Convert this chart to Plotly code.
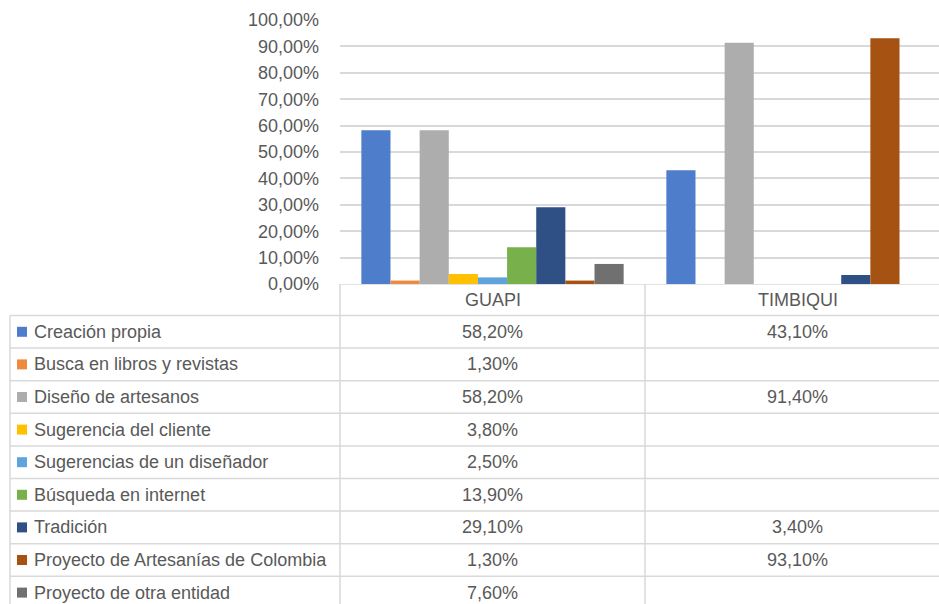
import plotly.graph_objects as go

categories = ["GUAPI", "TIMBIQUI"]
series_names = [
    "Creación propia",
    "Busca en libros y revistas",
    "Diseño de artesanos",
    "Sugerencia del cliente",
    "Sugerencias de un diseñador",
    "Búsqueda en internet",
    "Tradición",
    "Proyecto de Artesanías de Colombia",
    "Proyecto de otra entidad",
]
guapi = [0.582, 0.013, 0.582, 0.038, 0.025, 0.139, 0.291, 0.013, 0.076]
timbiqui = [0.431, None, 0.914, None, None, None, 0.034, 0.931, None]
y_ticks = [0, 0.1, 0.2, 0.3, 0.4, 0.5, 0.6, 0.7, 0.8, 0.9, 1.0]
colors = ["#4E7DCB", "#EE8A40", "#ADADAD", "#FFC000", "#5EA3DC",
          "#78B14B", "#2E5084", "#A65213", "#707070"]

OFF = 0
PW, PH = 939, 604
W, H = PW - OFF, PH - OFF
FONT = "Liberation Sans"
TXT = "#595959"
GRID = "#D9D9D9"
FS = 18


def fx(p):
    return (p - OFF) / W


def fy(p):
    return 1 - (p - OFF) / H


fig = go.Figure()
for name, g, t, c in zip(series_names, guapi, timbiqui, colors):
    fig.add_trace(go.Bar(name=name, x=categories, y=[g, t], marker_color=c,
                         marker_line_width=0, showlegend=False))

# table geometry (page pixels)
plot_top, plot_bot = 20, 284
row0 = 315.5
rowh = 32.6
y2_top = (plot_bot - row0) / rowh
y2_bot = (PH - row0) / rowh
plot_left = 340
cat_w = 305
x_max = -0.5 + (PW - plot_left) / cat_w

fig.update_layout(
    template="none",
    width=W, height=H,
    margin=dict(l=0, r=0, t=0, b=0, pad=0, autoexpand=False),
    paper_bgcolor="white", plot_bgcolor="white",
    separators=",.",
    barmode="group", bargap=0.14, bargroupgap=0,
    font=dict(family=FONT, color=TXT, size=FS),
    xaxis=dict(domain=[fx(plot_left), 1], range=[-0.5, x_max], showticklabels=False,
               showgrid=False, zeroline=False, showline=False, ticks="",
               automargin=False),
    yaxis=dict(domain=[fy(plot_bot), fy(plot_top)], range=[0, 1],
               tickvals=y_ticks, tickformat=".2%", showgrid=True, gridcolor=GRID,
               gridwidth=1.5, zeroline=False, showline=False, ticks="",
               ticklabelstandoff=20, automargin=False,
               tickfont=dict(size=FS, color=TXT, family=FONT)),
    yaxis2=dict(domain=[0, fy(plot_bot)], range=[y2_bot, y2_top],
                anchor="x", visible=False, showgrid=False, zeroline=False,
                automargin=False),
)

shapes = []
line = dict(color=GRID, width=1.5)
# top line of header (category axis line)
shapes.append(dict(type="line", xref="paper", yref="y2", x0=fx(plot_left), x1=1,
                   y0=y2_top, y1=y2_top, line=line))
# horizontal row lines
for i in range(len(series_names)):
    shapes.append(dict(type="line", xref="paper", yref="y2", x0=fx(10), x1=1,
                       y0=i, y1=i, line=line))
# vertical lines
shapes.append(dict(type="line", xref="paper", yref="y2", x0=fx(10), x1=fx(10),
                   y0=0, y1=y2_bot, line=line))
shapes.append(dict(type="line", xref="paper", yref="y2", x0=fx(plot_left), x1=fx(plot_left),
                   y0=y2_top, y1=y2_bot, line=line))
shapes.append(dict(type="line", xref="x", yref="y2", x0=0.5, x1=0.5,
                   y0=y2_top, y1=y2_bot, line=line))
# legend keys
for i, c in enumerate(colors):
    shapes.append(dict(type="rect", xref="paper", yref="y2",
                       x0=fx(17), x1=fx(27), y0=i + 0.5 - 5 / rowh, y1=i + 0.5 + 5 / rowh,
                       fillcolor=c, line=dict(width=0)))

annotations = []
for j, cat in enumerate(categories):
    annotations.append(dict(x=cat, y=y2_top / 2, xref="x", yref="y2", text=cat,
                            showarrow=False, font=dict(size=FS, color=TXT)))
for i, name in enumerate(series_names):
    annotations.append(dict(x=fx(32), y=i + 0.5, xref="paper", yref="y2", text=name,
                            xanchor="left", showarrow=False, font=dict(size=FS, color=TXT)))
    for cat, vals in zip(categories, [guapi, timbiqui]):
        v = vals[i]
        if v is not None:
            txt = f"{v * 100:.2f}%".replace(".", ",")
            annotations.append(dict(x=cat, y=i + 0.5, xref="x", yref="y2", text=txt,
                                    showarrow=False, font=dict(size=FS, color=TXT)))

fig.update_layout(shapes=shapes, annotations=annotations)
fig.write_html(
    "out.html",
    config={"displayModeBar": False},
    post_script="document.body.style.margin='0';document.body.style.overflow='hidden';",
)
